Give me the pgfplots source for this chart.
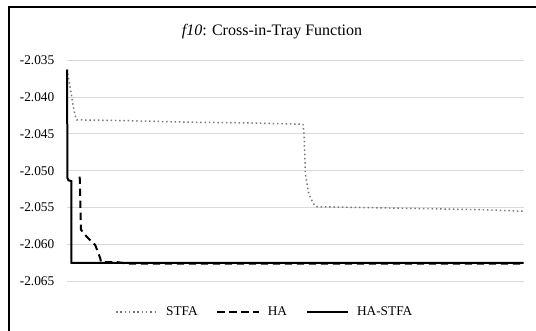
\documentclass[border=0pt]{standalone}
\usepackage{pgfplots}
\pgfplotsset{compat=1.18}
\usepackage{fontspec}
\setmainfont{Liberation Serif}
\definecolor{gridgray}{RGB}{217,217,217}
\definecolor{dotgray}{RGB}{120,120,120}
\begin{document}
\begin{tikzpicture}
\useasboundingbox (0pt,0pt) rectangle (402pt,248.25pt);
\fill[white] (0pt,0pt) rectangle (402pt,248.25pt);
\draw[black, line width=1.5pt] (6.4pt,0pt) -- (6.4pt,243pt) -- (402pt,243pt);
\node[font=\fontsize{12}{14}\selectfont] at (204pt,224.6pt) {\textit{f10}: Cross-in-Tray Function};
\begin{axis}[
  at={(50.25pt,37.3pt)}, anchor=south west,
  scale only axis,
  width=342.5pt, height=165.75pt,
  xmin=0, xmax=456.7,
  ymin=-2.065, ymax=-2.035,
  xtick=\empty,
  ytick={-2.065,-2.060,-2.055,-2.050,-2.045,-2.040,-2.035},
  yticklabels={-2.065,-2.060,-2.055,-2.050,-2.045,-2.040,-2.035},
  yticklabel style={font=\fontsize{10}{12}\selectfont, xshift=-6pt},
  major tick length=0pt,
  axis line style={draw=none},
  ymajorgrids,
  grid style={color=gridgray, line width=0.75pt},
  clip=false,
  legend columns=3,
  legend style={draw=none, fill=none, at={(axis description cs:0.434,-0.139)}, anchor=center,
     font=\fontsize{10}{12}\selectfont,
     /tikz/every odd column/.append style={column sep=4pt},
     /tikz/every even column/.append style={column sep=12pt}},
  legend image code/.code={\draw[#1] (0pt,0pt) -- (31pt,0pt);},
]
\addplot[dotgray, line width=1.1pt, dash pattern=on 1.1pt off 2.1pt, line join=round] coordinates {
(0,-2.03626) (1.3,-2.03727) (3,-2.03858) (4.7,-2.03994) (6.3,-2.0413) (8,-2.04243) (9.7,-2.0431)
(13,-2.0431) (60,-2.0432) (120,-2.0434) (180,-2.0435) (236,-2.04369)
(237,-2.04491) (238,-2.04853) (238.3,-2.05034) (239.7,-2.05148) (241.3,-2.05284)
(243.7,-2.05373) (247.3,-2.05464) (249.7,-2.05488)
(300,-2.0550) (380,-2.0552) (420,-2.0553) (456.7,-2.0555)
};
\addlegendentry{STFA}
\addplot[black, line width=1.5pt, dash pattern=on 5.5pt off 3.5pt] coordinates {
(12.7,-2.0508) (14,-2.0580) (20,-2.0590) (28.3,-2.0601) (33.3,-2.0619) (34,-2.0624)
(50,-2.0624) (60,-2.0626) (456.7,-2.0626)
};
\addlegendentry{HA}
\addplot[black, line width=1.5pt] coordinates {
(0,-2.03626) (0.5,-2.0510) (1.5,-2.0513) (4.3,-2.0514) (4.5,-2.0625) (456.7,-2.0625)
};
\addlegendentry{HA-STFA}
\end{axis}
\end{tikzpicture}
\end{document}
